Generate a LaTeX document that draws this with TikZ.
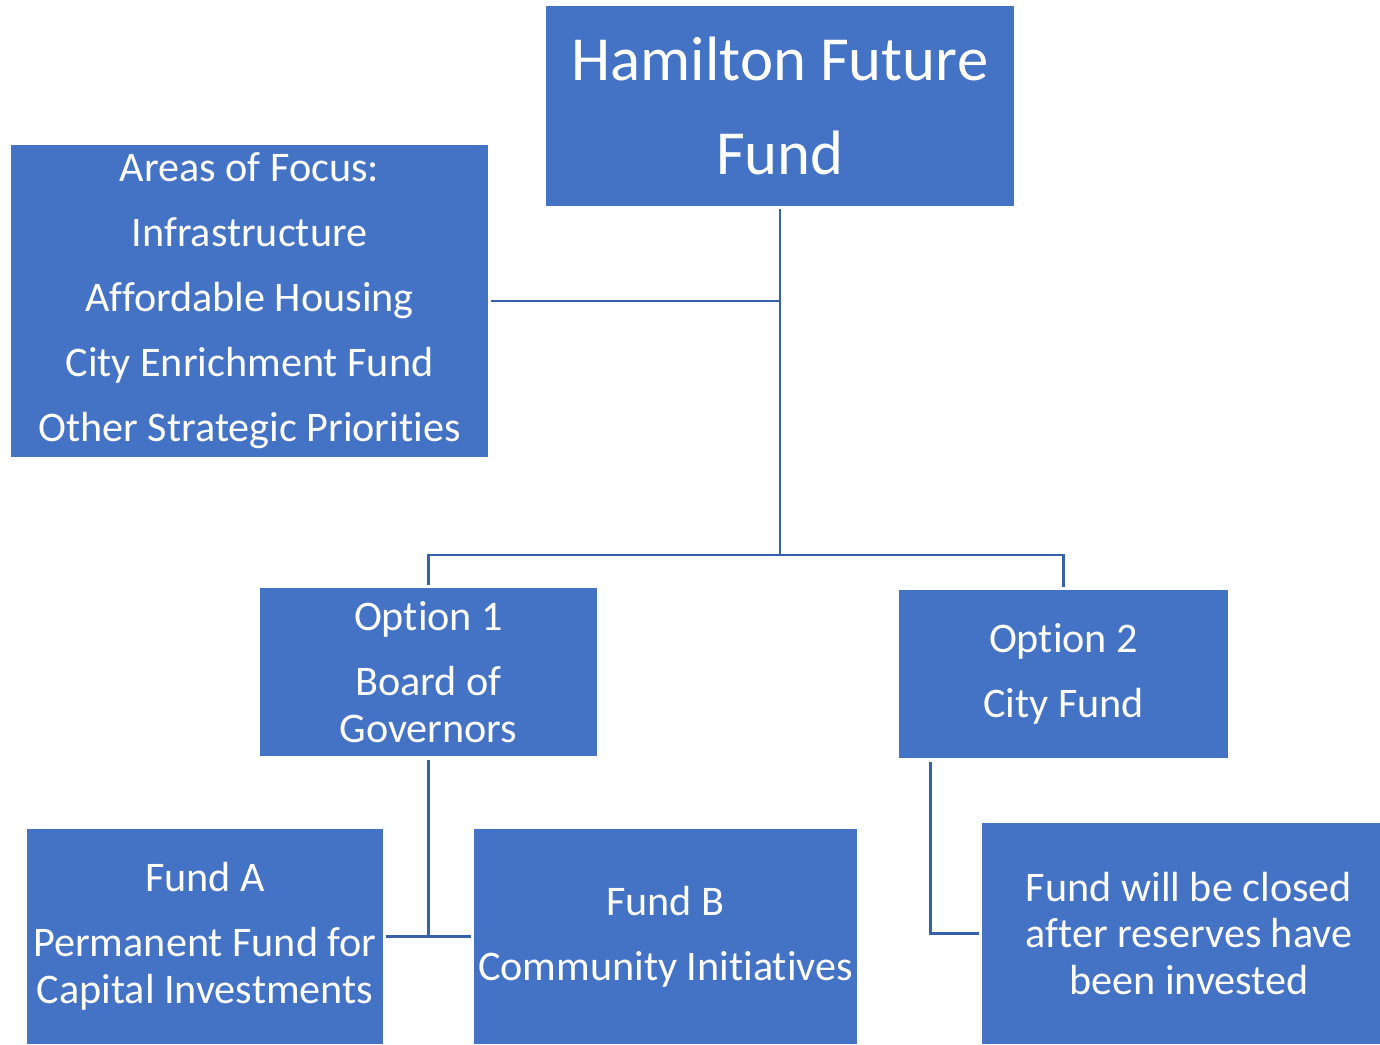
\documentclass[tikz,border=0pt]{standalone}
\usepackage{fontspec}
\setmainfont{Carlito}[Ligatures={NoCommon}]
\usetikzlibrary{calc}
\definecolor{boxblue}{HTML}{4472C4}
\definecolor{lineblue}{HTML}{3660A8}
\tikzset{
	fundbox/.style={fill=boxblue, text=white, align=center, inner sep=0pt, font=\fontsize{24}{26.5}\selectfont},
	conn/.style={draw=lineblue, line width=1.4pt},
}

\begin{document}
\begin{tikzpicture}[x=0.02cm, y=-0.02cm]
			%%%%% START %%%%%
			
			\useasboundingbox (0,0) rectangle (1380,1045);
			
			\node[fundbox, minimum width=9.36cm, minimum height=4cm, font=\fontsize{35.7}{54}\selectfont] (hff) at (780,106) {Hamilton Future\\Fund};
			\node[fundbox, minimum width=9.54cm, minimum height=6.24cm] (areas) at (249.5,301) {Areas of Focus:\\[10.5pt]Infrastructure\\[10.5pt]Affordable Housing\\[10.5pt]City Enrichment Fund\\[10.5pt]Other Strategic Priorities};
			
			\node[fundbox, minimum width=6.74cm, minimum height=3.36cm] (opt1) at (428.5,672) {Option 1\\[10.5pt]Board of\\Governors};
			\node[fundbox, minimum width=6.58cm, minimum height=3.36cm] (opt2) at (1063.5,674) {Option 2\\[10.5pt]City Fund};
			
			\node[fundbox, minimum width=7.12cm, minimum height=4.3cm] (funda) at (205,936.5) {Fund A\\[10.5pt]Permanent Fund for\\Capital Investments};
			\node[fundbox, minimum width=7.66cm, minimum height=4.3cm] (fundb) at (665.5,936.5) {Fund B\\[10.5pt]Community Initiatives};
			\node[fundbox, minimum width=8.28cm, minimum height=4.42cm] (closed) at (1189,933.5) {Fund will be closed\\after reserves have\\been invested};
			
			\coordinate (split) at (780,555);
			\coordinate (split1) at (opt1.south |- funda.east);
			
			\draw[conn] ([yshift=-0.06cm]hff.south) -- (split);
			\draw[conn] ([xshift=0.06cm]areas.east) -- (areas.east -| hff.south);
			\draw[conn] (split) -| ([yshift=0.06cm]opt1.north);
			\draw[conn] (split) -| ([yshift=0.06cm]opt2.north);
			
			\draw[conn] ([yshift=-0.08cm]opt1.south) -- (split1);
			\draw[conn] ([xshift=0.06cm]funda.east) -- (split1) -- ([xshift=-0.06cm]fundb.west);
			\draw[conn] ([xshift=0.64cm, yshift=-0.08cm]opt2.south west) |- ([xshift=-0.06cm]closed.west);
			
			%%%%% END %%%%%
\end{tikzpicture}
\end{document}
